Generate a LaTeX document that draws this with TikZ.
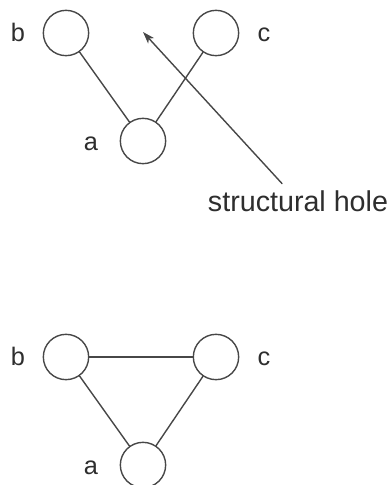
\documentclass[tikz,border=0pt]{standalone}
\usepackage{fontspec}
\setmainfont{Liberation Sans}
\usepackage{tikz}
\usetikzlibrary{arrows.meta}

\begin{document}
\begin{tikzpicture}[x=0.75pt,y=-0.75pt,line cap=round,line join=round,
   vertex/.style={draw=black!72,circle,minimum size=34pt,inner sep=0pt,line width=1.05pt},
   lbl/.style={text=black!82,font=\fontsize{19}{22}\selectfont,inner sep=0pt},
   edge/.style={draw=black!72,line width=1.05pt}]
\useasboundingbox (0,0) rectangle (391,485);
\def\ga{108} % a below b and c
% the two triads, open (1) and closed (2)
\foreach\g/\dy in {1/0,2/324}
{%
  \node[vertex] (b\g) at (66,33+\dy) {};
  \node[vertex] (c\g) at (216,33+\dy) {};
  \node[vertex] (a\g) at (143,33+\ga+\dy) {};
  \node[lbl] at (18,32+\dy) {b};
  \node[lbl] at (264,35+\dy) {c};
  \node[lbl] at (91,144+\dy) {a};
}
\draw[edge] (b1) -- (a1);
\draw[edge] (c1) -- (a1);
\draw[edge] (b2) -- (c2);
\draw[edge] (b2) -- (a2);
\draw[edge] (c2) -- (a2);
% the structural hole
\node[lbl,font=\fontsize{21.5}{24}\selectfont] (hole) at (298,201) {structural hole};
\coordinate (gap) at (143,32);
\draw[edge,-{Stealth[length=9pt,width=6pt,inset=2.5pt]}] ([xshift=-12pt,yshift=5pt]hole.north) -- (gap);
\end{tikzpicture}
\end{document}
